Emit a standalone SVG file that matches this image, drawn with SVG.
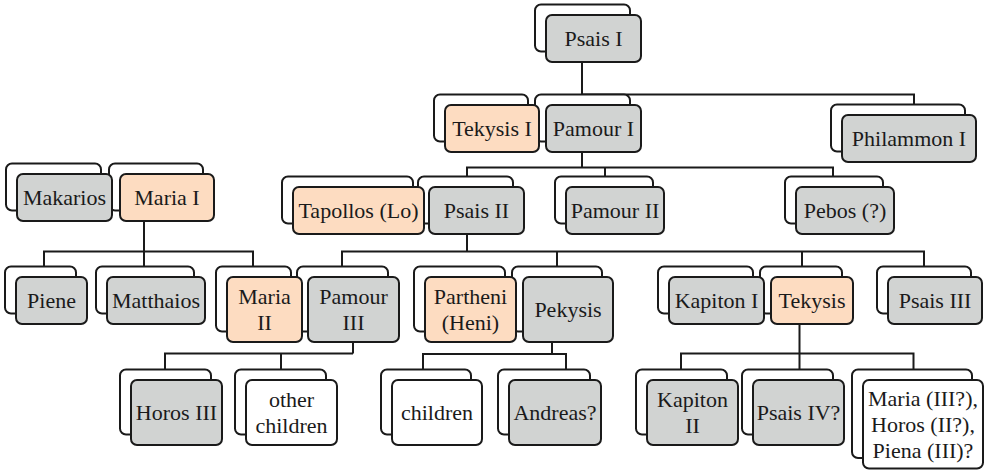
<svg xmlns="http://www.w3.org/2000/svg" width="984" height="470" viewBox="0 0 984 470">
<defs>
<style>
.bk{fill:#ffffff;stroke:#1a1a1a;stroke-width:2}
.fr{stroke:#1a1a1a;stroke-width:2}
.g{fill:#d1d3d2}
.p{fill:#fddcc1}
.w{fill:#ffffff}
.t{font-family:'Liberation Serif','DejaVu Serif',serif;font-size:22px;fill:#1a1a1a;text-anchor:middle}
#connectors path{fill:none;stroke:#1a1a1a;stroke-width:2}
</style>
</defs>
<rect width="984" height="470" fill="#ffffff"/>
<g id="connectors">
<path d="M582,62 V94.5 M582,94.5 H914 V104.5"/>
<path d="M582,152 V167.5 M467,176.5 V167.5 H833 V176.5 M605,167.5 V176.5"/>
<path d="M144,221 V251.5 M44,266.5 V251.5 H253 V266.5 M144,251.5 V266.5"/>
<path d="M467,234 V251.5 M342,266.5 V251.5 H924 V266.5 M557,251.5 V266.5 M802,251.5 V266.5"/>
<path d="M353,342 V353.5 M165,369.5 V353.5 H353 M281,353.5 V369.5"/>
<path d="M552,342 V354 M423,369.5 V354 H566 V369.5"/>
<path d="M799.5,324 V369.5 M681,369.5 V353.5 H913.5 V369.5"/>
</g>
<g id="psais1"><rect class="bk" x="535" y="4.5" width="95" height="47" rx="6"/><rect class="fr g" x="546" y="15" width="95" height="47" rx="6"/><text class="t" font-family="Liberation Serif, DejaVu Serif, serif" x="593.5" y="46">Psais I</text></g>
<g id="pamour1"><rect class="bk" x="535" y="94.5" width="95" height="47" rx="6"/><rect class="fr g" x="546" y="105" width="95" height="47" rx="6"/><text class="t" x="593.5" y="136">Pamour I</text></g>
<g id="tekysis1"><rect class="bk" x="434" y="94.5" width="94" height="47" rx="6"/><rect class="fr p" x="445" y="105" width="94" height="47" rx="6"/><text class="t" x="492" y="136">Tekysis I</text></g>
<g id="philammon1"><rect class="bk" x="831" y="104.5" width="134" height="47" rx="6"/><rect class="fr g" x="842" y="115" width="134" height="47" rx="6"/><text class="t" x="909" y="146">Philammon I</text></g>
<g id="psais2"><rect class="bk" x="418" y="176.5" width="95" height="47" rx="6"/><rect class="fr g" x="429" y="187" width="95" height="47" rx="6"/><text class="t" x="476.5" y="218">Psais II</text></g>
<g id="tapollos"><rect class="bk" x="282" y="176.5" width="131" height="47" rx="6"/><rect class="fr p" x="293" y="187" width="131" height="47" rx="6"/><text class="t" x="358.5" y="218">Tapollos (Lo)</text></g>
<g id="pamour2"><rect class="bk" x="555" y="176.5" width="98" height="47" rx="6"/><rect class="fr g" x="566" y="187" width="98" height="47" rx="6"/><text class="t" x="615" y="218">Pamour II</text></g>
<g id="pebos"><rect class="bk" x="785" y="176.5" width="98" height="47" rx="6"/><rect class="fr g" x="796" y="187" width="98" height="47" rx="6"/><text class="t" x="845" y="218">Pebos (?)</text></g>
<g id="maria1"><rect class="bk" x="109" y="163.5" width="94" height="47" rx="6"/><rect class="fr p" x="120" y="174" width="94" height="47" rx="6"/><text class="t" x="167" y="205">Maria I</text></g>
<g id="makarios"><rect class="bk" x="6" y="163.5" width="95" height="47" rx="6"/><rect class="fr g" x="17" y="174" width="95" height="47" rx="6"/><text class="t" x="64.5" y="205">Makarios</text></g>
<g id="piene"><rect class="bk" x="5" y="266.5" width="71" height="47" rx="6"/><rect class="fr g" x="16" y="277" width="71" height="47" rx="6"/><text class="t" x="51.5" y="308">Piene</text></g>
<g id="matthaios"><rect class="bk" x="96" y="266.5" width="98" height="47" rx="6"/><rect class="fr g" x="107" y="277" width="98" height="47" rx="6"/><text class="t" x="156" y="308">Matthaios</text></g>
<g id="pamour3"><rect class="bk" x="297" y="266.5" width="91" height="65" rx="6"/><rect class="fr g" x="308" y="277" width="91" height="65" rx="6"/><text class="t" x="353.5" y="304">Pamour</text><text class="t" x="353.5" y="330">III</text></g>
<g id="maria2"><rect class="bk" x="216" y="266.5" width="75" height="65" rx="6"/><rect class="fr p" x="227" y="277" width="75" height="65" rx="6"/><text class="t" x="264.5" y="304">Maria</text><text class="t" x="264.5" y="330">II</text></g>
<g id="pekysis"><rect class="bk" x="512" y="266.5" width="90" height="65" rx="6"/><rect class="fr g" x="523" y="277" width="90" height="65" rx="6"/><text class="t" x="568" y="317">Pekysis</text></g>
<g id="partheni"><rect class="bk" x="414" y="266.5" width="91" height="65" rx="6"/><rect class="fr p" x="425" y="277" width="91" height="65" rx="6"/><text class="t" x="470.5" y="304">Partheni</text><text class="t" x="470.5" y="330">(Heni)</text></g>
<g id="tekysis"><rect class="bk" x="760" y="266.5" width="82" height="47" rx="6"/><rect class="fr p" x="771" y="277" width="82" height="47" rx="6"/><text class="t" x="812" y="308">Tekysis</text></g>
<g id="kapiton1"><rect class="bk" x="658" y="266.5" width="95" height="47" rx="6"/><rect class="fr g" x="669" y="277" width="95" height="47" rx="6"/><text class="t" x="716.5" y="308">Kapiton I</text></g>
<g id="psais3"><rect class="bk" x="877" y="266.5" width="94" height="47" rx="6"/><rect class="fr g" x="888" y="277" width="94" height="47" rx="6"/><text class="t" x="935" y="308">Psais III</text></g>
<g id="horos3"><rect class="bk" x="120" y="369.5" width="91" height="65" rx="6"/><rect class="fr g" x="131" y="380" width="91" height="65" rx="6"/><text class="t" x="176.5" y="420">Horos III</text></g>
<g id="otherchildren"><rect class="bk" x="235" y="369.5" width="91" height="65" rx="6"/><rect class="fr w" x="246" y="380" width="91" height="65" rx="6"/><text class="t" x="291.5" y="407">other</text><text class="t" x="291.5" y="433">children</text></g>
<g id="children"><rect class="bk" x="381" y="369.5" width="90" height="65" rx="6"/><rect class="fr w" x="392" y="380" width="90" height="65" rx="6"/><text class="t" x="437" y="420">children</text></g>
<g id="andreas"><rect class="bk" x="498" y="369.5" width="92" height="65" rx="6"/><rect class="fr g" x="509" y="380" width="92" height="65" rx="6"/><text class="t" x="555" y="420">Andreas?</text></g>
<g id="kapiton2"><rect class="bk" x="636" y="369.5" width="91" height="65" rx="6"/><rect class="fr g" x="647" y="380" width="91" height="65" rx="6"/><text class="t" x="692.5" y="407">Kapiton</text><text class="t" x="692.5" y="433">II</text></g>
<g id="psais4"><rect class="bk" x="742" y="369.5" width="91" height="65" rx="6"/><rect class="fr g" x="753" y="380" width="91" height="65" rx="6"/><text class="t" x="798.5" y="420">Psais IV?</text></g>
<g id="mariahorospiena"><rect class="bk" x="852" y="369.5" width="120" height="88.5" rx="6"/><rect class="fr w" x="863" y="380" width="120" height="88.5" rx="6"/><text class="t" x="923" y="405.5">Maria (III?),</text><text class="t" x="923" y="431.5">Horos (II?),</text><text class="t" x="923" y="457.5">Piena (III)?</text></g>
</svg>
